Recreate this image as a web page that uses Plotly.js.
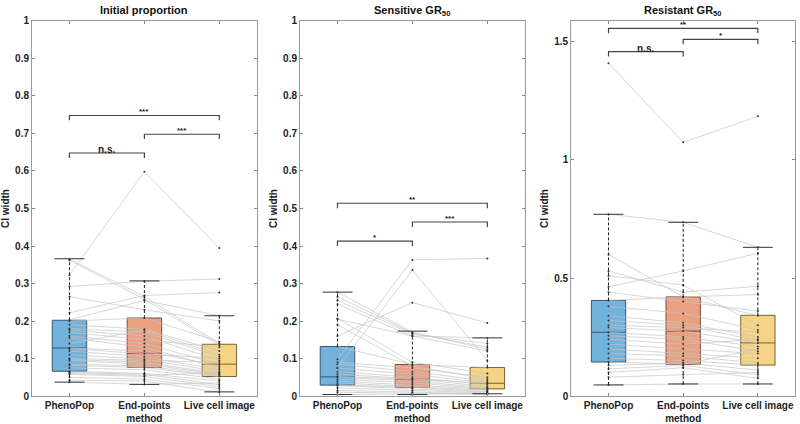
<!DOCTYPE html>
<html>
<head>
<meta charset="utf-8">
<script src="https://cdn.plot.ly/plotly-3.0.1.min.js"></script>
<style>
  body { margin: 0; background: #fff; }
  #chart { width: 800px; height: 424px; }
</style>
</head>
<body>
<div id="chart"></div>
<script>
// categories
const methods = ['PhenoPop', 'End-points<br>method', 'Live cell image'];
const methodPos = [1, 2, 3];

// panel titles
const panelTitles = ['Initial proportion', 'Sensitive GR<sub>50</sub>', 'Resistant GR<sub>50</sub>'];

// ---- Initial proportion: paired CI widths per sample
const initPheno = [0.365, 0.362, 0.323, 0.292, 0.265, 0.222, 0.203, 0.200, 0.190, 0.180, 0.176, 0.170, 0.160, 0.155, 0.140, 0.128,
                   0.126, 0.120, 0.110, 0.100, 0.097, 0.095, 0.085, 0.082, 0.075, 0.066, 0.063, 0.060, 0.058, 0.050, 0.042, 0.037];
const initEnd   = [0.265, 0.258, 0.598, 0.306, 0.230, 0.268, 0.255, 0.208, 0.178, 0.170, 0.160, 0.150, 0.140, 0.130, 0.176, 0.120,
                   0.113, 0.105, 0.098, 0.095, 0.090, 0.085, 0.080, 0.076, 0.070, 0.060, 0.058, 0.055, 0.052, 0.045, 0.040, 0.031];
const initLive  = [0.140, 0.135, 0.395, 0.312, 0.200, 0.276, 0.214, 0.145, 0.120, 0.105, 0.095, 0.130, 0.085, 0.075, 0.110, 0.080,
                   0.100, 0.070, 0.065, 0.090, 0.060, 0.058, 0.055, 0.052, 0.045, 0.040, 0.030, 0.062, 0.025, 0.020, 0.010, 0.035];
// box statistics (PhenoPop, End-points, Live cell)
const initLow  = [0.037, 0.031, 0.011];
const initQ1   = [0.066, 0.076, 0.052];
const initMed  = [0.128, 0.114, 0.085];
const initQ3   = [0.202, 0.208, 0.138];
const initHigh = [0.366, 0.307, 0.214];
const initSigY = [0.648, 0.698, 0.748];
const initSigText = ['n.s.', '***', '***'];

// ---- Sensitive GR50
const sensPheno = [0.277, 0.265, 0.255, 0.245, 0.207, 0.205, 0.190, 0.160, 0.098, 0.075, 0.090, 0.085, 0.075, 0.065,
                   0.058, 0.052, 0.050, 0.045, 0.040, 0.035, 0.030, 0.028, 0.022, 0.015, 0.010, 0.004, 0.132];
const sensEnd   = [0.170, 0.168, 0.165, 0.160, 0.090, 0.160, 0.080, 0.249, 0.363, 0.336, 0.075, 0.065, 0.058, 0.050,
                   0.046, 0.045, 0.040, 0.035, 0.030, 0.025, 0.023, 0.020, 0.015, 0.010, 0.008, 0.004, 0.084];
const sensLive  = [0.125, 0.130, 0.140, 0.155, 0.060, 0.120, 0.045, 0.195, 0.367, 0.095, 0.050, 0.040, 0.035, 0.030,
                   0.025, 0.034, 0.022, 0.020, 0.018, 0.015, 0.012, 0.010, 0.008, 0.006, 0.005, 0.006, 0.076];
const sensLow  = [0.004, 0.004, 0.006];
const sensQ1   = [0.029, 0.023, 0.019];
const sensMed  = [0.051, 0.045, 0.034];
const sensQ3   = [0.132, 0.084, 0.076];
const sensHigh = [0.277, 0.173, 0.155];
const sensSigY = [0.413, 0.464, 0.514];
const sensSigText = ['*', '***', '**'];

// ---- Resistant GR50
const resPheno = [1.410, 0.770, 0.600, 0.530, 0.510, 0.463, 0.440, 0.405, 0.380, 0.340, 0.320, 0.300, 0.290, 0.270,
                  0.255, 0.240, 0.220, 0.200, 0.180, 0.160, 0.144, 0.130, 0.115, 0.100, 0.080, 0.047];
const resEnd   = [1.075, 0.736, 0.420, 0.440, 0.470, 0.530, 0.400, 0.420, 0.350, 0.310, 0.300, 0.290, 0.275, 0.250,
                  0.240, 0.220, 0.200, 0.180, 0.170, 0.150, 0.134, 0.140, 0.130, 0.120, 0.090, 0.051];
const resLive  = [1.185, 0.630, 0.430, 0.465, 0.300, 0.605, 0.360, 0.340, 0.280, 0.250, 0.235, 0.270, 0.225, 0.210,
                  0.190, 0.240, 0.180, 0.160, 0.140, 0.131, 0.200, 0.110, 0.090, 0.075, 0.100, 0.051];
const resLow  = [0.047, 0.051, 0.051];
const resQ1   = [0.144, 0.134, 0.131];
const resMed  = [0.270, 0.275, 0.225];
const resQ3   = [0.405, 0.420, 0.342];
const resHigh = [0.770, 0.736, 0.630];
const resSigY = [1.459, 1.511, 1.558];
const resSigText = ['n.s.', '*', '**'];

const sigPairs = [[1, 2], [2, 3], [1, 3]];

const boxFill = ['rgba(0,114,189,0.55)', 'rgba(217,83,25,0.55)', 'rgba(237,177,32,0.55)'];
const boxEdge = ['rgb(55,85,115)', 'rgb(125,75,60)', 'rgb(120,100,50)'];

const panels = [
  { vals: [initPheno, initEnd, initLive], low: initLow, q1: initQ1, med: initMed, q3: initQ3, high: initHigh,
    sigY: initSigY, sigText: initSigText, yrange: [0, 1], dtick: 0.1 },
  { vals: [sensPheno, sensEnd, sensLive], low: sensLow, q1: sensQ1, med: sensMed, q3: sensQ3, high: sensHigh,
    sigY: sensSigY, sigText: sensSigText, yrange: [0, 1], dtick: 0.1 },
  { vals: [resPheno, resEnd, resLive], low: resLow, q1: resQ1, med: resMed, q3: resQ3, high: resHigh,
    sigY: resSigY, sigText: resSigText, yrange: [0, 1.589], dtick: 0.5 }
];

const xDomains = [[0.04, 0.321], [0.375, 0.656], [0.714, 0.994]];
const font = 'Liberation Sans, Arial, sans-serif';

const traces = [];
const annotations = [];
const layout = {
  width: 800, height: 424,
  margin: { l: 0, r: 0, t: 0, b: 0 },
  paper_bgcolor: '#fff', plot_bgcolor: '#fff',
  showlegend: false,
  font: { family: font, color: '#222' }
};

panels.forEach((p, k) => {
  const n = k === 0 ? '' : String(k + 1);
  const xa = 'x' + n, ya = 'y' + n;

  // paired lines + dots
  const lx = [], ly = [];
  for (let i = 0; i < p.vals[0].length; i++) {
    methodPos.forEach((m, j) => { lx.push(m); ly.push(p.vals[j][i]); });
    lx.push(null); ly.push(null);
  }
  traces.push({
    type: 'scatter', mode: 'lines+markers', x: lx, y: ly, xaxis: xa, yaxis: ya,
    line: { color: 'rgb(198,198,198)', width: 0.7 },
    marker: { color: '#333', size: 2 },
    hoverinfo: 'skip'
  });

  // whiskers (dashed) and caps
  const wx = [], wy = [], cx = [], cy = [];
  methodPos.forEach((m, j) => {
    wx.push(m, m, null, m, m, null);
    wy.push(p.low[j], p.q1[j], null, p.q3[j], p.high[j], null);
    cx.push(m - 0.2, m + 0.2, null, m - 0.2, m + 0.2, null);
    cy.push(p.low[j], p.low[j], null, p.high[j], p.high[j], null);
  });
  traces.push({
    type: 'scatter', mode: 'lines', x: wx, y: wy, xaxis: xa, yaxis: ya,
    line: { color: '#222', width: 1, dash: '3px,2px' }, hoverinfo: 'skip'
  });
  traces.push({
    type: 'scatter', mode: 'lines', x: cx, y: cy, xaxis: xa, yaxis: ya,
    line: { color: '#333', width: 1 }, hoverinfo: 'skip'
  });

  // boxes
  methodPos.forEach((m, j) => {
    traces.push({
      type: 'box', x: [m], xaxis: xa, yaxis: ya,
      q1: [p.q1[j]], median: [p.med[j]], q3: [p.q3[j]],
      lowerfence: [p.q1[j]], upperfence: [p.q3[j]],
      width: 0.46, whiskerwidth: 0,
      fillcolor: boxFill[j], line: { color: boxEdge[j], width: 1 },
      hoverinfo: 'skip'
    });
  });

  // significance brackets
  const tick = (p.yrange[1] - p.yrange[0]) * 0.013;
  const bx = [], by = [];
  sigPairs.forEach((pr, j) => {
    const h = p.sigY[j];
    const ns = p.sigText[j] === 'n.s.';
    bx.push(pr[0], pr[0], pr[1], pr[1], null);
    by.push(h - tick, h, h, h - tick, null);
    annotations.push({
      xref: xa, yref: ya, x: (pr[0] + pr[1]) / 2, y: h,
      text: p.sigText[j], showarrow: false, yanchor: 'bottom', yshift: ns ? -4 : -3,
      font: { family: font, size: ns ? 10 : 8, weight: 'bold', color: '#222' }
    });
  });
  traces.push({
    type: 'scatter', mode: 'lines', x: bx, y: by, xaxis: xa, yaxis: ya,
    line: { color: '#444', width: 1.2 }, hoverinfo: 'skip'
  });

  // panel title
  annotations.push({
    xref: xa + ' domain', yref: 'paper', x: 0.5, y: 0.995, yanchor: 'top',
    text: panelTitles[k], showarrow: false,
    font: { family: font, size: 11, weight: 'bold', color: '#111' }
  });

  layout['xaxis' + n] = {
    domain: xDomains[k], anchor: ya, range: [0.5, 3.5],
    tickvals: methodPos, ticktext: methods,
    ticks: 'inside', ticklen: 3, tickcolor: '#888',
    showline: true, linecolor: '#999', linewidth: 1, mirror: 'ticks',
    showgrid: false, zeroline: false,
    tickfont: { family: font, size: 10, weight: 'bold', color: '#222' }
  };
  layout['yaxis' + n] = {
    domain: [0.066, 0.9505], anchor: xa, range: p.yrange, dtick: p.dtick,
    ticks: 'inside', ticklen: 3, tickcolor: '#888',
    showline: true, linecolor: '#999', linewidth: 1, mirror: 'ticks',
    showgrid: false, zeroline: false,
    tickfont: { family: font, size: 10, weight: 'bold', color: '#222' },
    title: { text: 'CI width', standoff: 3, font: { family: font, size: 10, weight: 'bold', color: '#222' } }
  };
});

layout.annotations = annotations;

Plotly.newPlot('chart', traces, layout, { displayModeBar: false, staticPlot: true });
</script>
</body>
</html>
